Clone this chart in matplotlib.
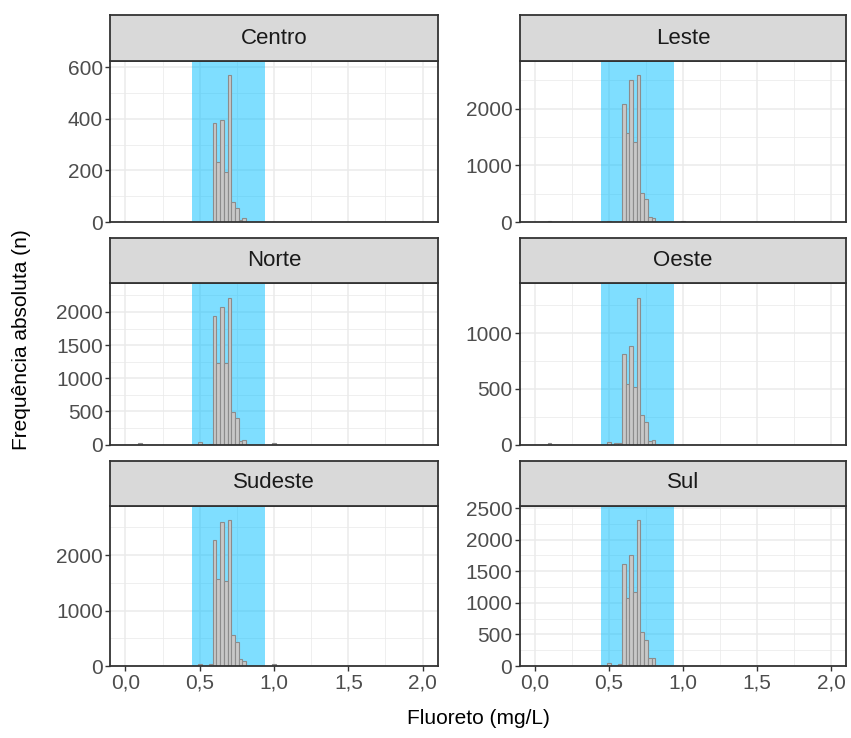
#!/usr/bin/env python3
# -*- coding: utf-8 -*-

import matplotlib
matplotlib.use("Agg")
import matplotlib.pyplot as plt
import numpy as np

plt.rcParams['font.family'] = ['Liberation Sans', 'DejaVu Sans']

# centros das classes (mg/L), largura 0.025
bins = [0.1, 0.5, 0.55, 0.575, 0.6, 0.625, 0.65, 0.675, 0.7, 0.725, 0.75, 0.775, 0.8, 1.0]
binwidth = 0.025

centro  = [0, 0, 0, 0, 384, 232, 396, 194, 570, 77, 55, 8, 14, 0]
leste   = [15, 25, 0, 0, 2083, 1570, 2508, 1410, 2590, 508, 402, 83, 65, 15]
norte   = [20, 35, 0, 15, 1936, 1224, 2079, 1234, 2216, 493, 398, 60, 70, 30]
oeste   = [10, 20, 10, 10, 808, 540, 885, 519, 1317, 263, 204, 35, 40, 0]
sudeste = [0, 45, 0, 35, 2262, 1566, 2601, 1530, 2629, 566, 441, 120, 84, 40]
sul     = [0, 40, 0, 30, 1615, 1080, 1756, 1174, 2309, 535, 419, 120, 120, 0]

regioes = ['Centro', 'Leste', 'Norte', 'Oeste', 'Sudeste', 'Sul']
contagens = [centro, leste, norte, oeste, sudeste, sul]
yticks = [[0, 200, 400, 600], [0, 1000, 2000], [0, 500, 1000, 1500, 2000],
          [0, 500, 1000], [0, 1000, 2000], [0, 500, 1000, 1500, 2000, 2500]]

faixa = (0.45, 0.94)
xticks = [0, 0.5, 1.0, 1.5, 2.0]

W, H = 851, 738
fig = plt.figure(figsize=(W / 100, H / 100), dpi=100)

cols = [(110.5, 327), (520, 326)]
rows = [(15.5, 60.5, 222), (238, 283, 444.5), (460.5, 505.5, 666)]
borda = '#333333'

def fx(x):
    return x / W

def fy(y):
    return 1 - y / H

for i, (nome, cont) in enumerate(zip(regioes, contagens)):
    r, c = divmod(i, 2)
    x0, w = cols[c]
    st, sb, pb = rows[r]

    ax = fig.add_axes([fx(x0), fy(pb), w / W, (pb - sb) / H])
    ax.set_axisbelow(True)
    ax.axvspan(faixa[0], faixa[1], color='#00BFFF', alpha=0.5, lw=0, zorder=1)
    ax.bar(bins, cont, width=binwidth, color='#C8C8C8', edgecolor='#8C8C8C',
           linewidth=0.8, zorder=2)
    ax.set_xticks(xticks)
    ax.set_xticks([0.25, 0.75, 1.25, 1.75], minor=True)
    yt = yticks[i]
    ax.set_yticks(yt)
    ax.set_yticks([v + (yt[1] - yt[0]) / 2 for v in yt], minor=True)
    ax.set_xlim(-0.1, 2.1)
    ax.set_ylim(0, 1.1 * max(cont))
    ax.grid(True, which='major', color='#EBEBEB', lw=1.1, zorder=0)
    ax.grid(True, which='minor', color='#EBEBEB', lw=0.55, zorder=0)
    ax.tick_params(which='minor', length=0)
    ax.tick_params(which='major', length=3.5, width=1.0, color=borda,
                   labelsize=15, labelcolor='#4D4D4D', pad=2)
    if r == 2:
        ax.set_xticklabels([f'{v:.1f}'.replace('.', ',') for v in xticks])
    else:
        ax.tick_params(axis='x', which='both', length=0, labelbottom=False)
    for s in ax.spines.values():
        s.set_color(borda)
        s.set_linewidth(1.3)

    sax = fig.add_axes([fx(x0), fy(sb), w / W, (sb - st) / H])
    sax.set_facecolor('#D9D9D9')
    sax.set_xticks([])
    sax.set_yticks([])
    for s in sax.spines.values():
        s.set_color(borda)
        s.set_linewidth(1.3)
    sax.text(0.5, 0.5, nome, ha='center', va='center', fontsize=16,
             color='#1A1A1A', transform=sax.transAxes)

fig.text(fx(478), fy(718), 'Fluoreto (mg/L)', ha='center', va='center', fontsize=15)
fig.text(fx(22), fy(340), 'Frequência absoluta (n)', ha='center', va='center',
         rotation=90, fontsize=15)

fig.savefig('out.png', dpi=100)
